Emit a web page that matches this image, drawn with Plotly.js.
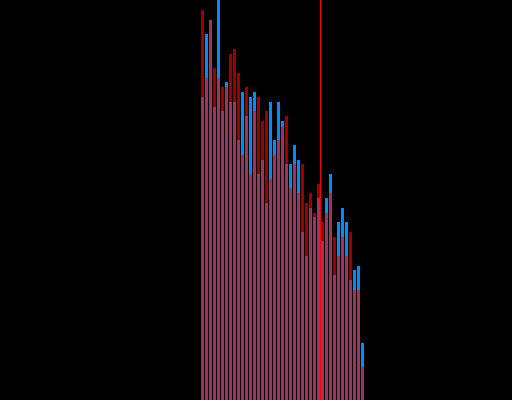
<!DOCTYPE html>
<html>
<head>
<meta charset="utf-8">
<script src="https://cdn.plot.ly/plotly-3.0.1.min.js"></script>
<style>html,body{margin:0;padding:0;background:#000;}#chart{width:512px;height:400px;}</style>
</head>
<body>
<div id="chart"></div>
<script>
// bar index positions
const positions = [0,1,2,3,4,5,6,7,8,9,10,11,12,13,14,15,16,17,18,19,20,21,22,23,24,25,26,27,28,29,30,31,32,33,34,35,36,37,38,39,40];
// blue series (drawn underneath, opaque)
const blueValues = [303,366,380,293,410,289,318,298,298,260,308,284,303,308,226,240,197,298,260,298,279,236,236,255,240,168,144,192,183,202,159,202,226,125,178,192,178,120,130,134,57];
// red series (drawn on top, translucent)
const redValues = [390,322,380,332,322,313,313,346,351,327,245,313,226,289,303,279,289,221,245,260,274,284,212,236,207,236,197,207,187,216,178,187,207,163,144,163,144,168,110,110,33];
// marker line position
const markerX = 29.5;

const traces = [
  {type:'bar', x:positions, y:blueValues, marker:{color:'rgb(0,140,255)'}, hoverinfo:'skip'},
  {type:'bar', x:positions, y:redValues, marker:{color:'rgb(255,0,0)'}, opacity:0.62, hoverinfo:'skip'}
];
const layout = {
  width:512, height:400,
  margin:{l:0,r:0,t:0,b:0,pad:0},
  paper_bgcolor:'#000', plot_bgcolor:'#000',
  barmode:'overlay', bargap:0.25,
  showlegend:false,
  xaxis:{visible:false, range:[-50.625, 77.375], fixedrange:true},
  yaxis:{visible:false, range:[0,400], fixedrange:true},
  shapes:[{type:'line', xref:'x', yref:'paper', x0:markerX, x1:markerX, y0:0, y1:1, line:{color:'rgb(255,0,0)', width:1}}]
};
Plotly.newPlot('chart', traces, layout, {displayModeBar:false, staticPlot:true});
</script>
</body>
</html>
